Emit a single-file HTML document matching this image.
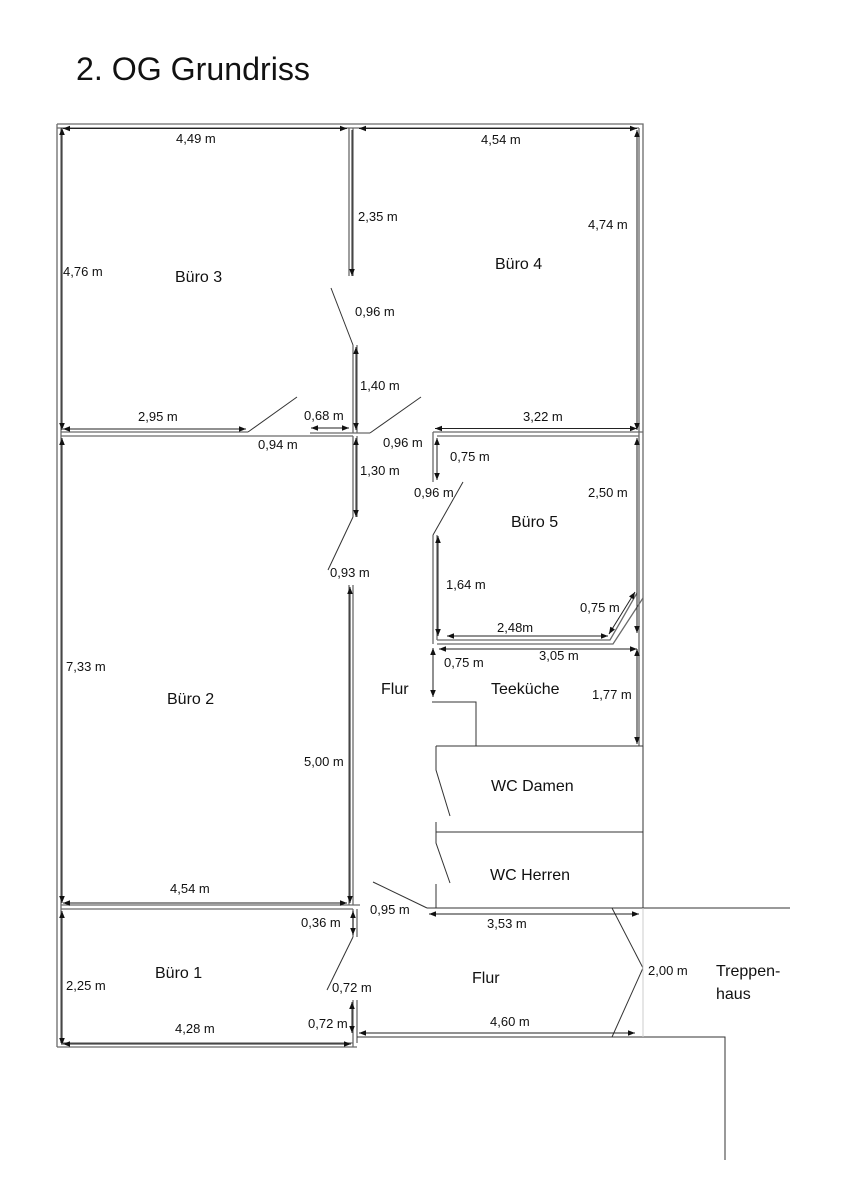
<!DOCTYPE html>
<html><head><meta charset="utf-8"><style>
html,body{margin:0;padding:0;background:#fff;}
svg{display:block;}
text{font-family:"Liberation Sans",sans-serif;fill:#111;}
.w{stroke:#6a6a6a;stroke-width:1.3;fill:none;}
.t{stroke:#333;stroke-width:1;fill:none;}
.d{stroke:#222;stroke-width:1;fill:none;marker-start:url(#a);marker-end:url(#a);}
.d1{stroke:#222;stroke-width:1;fill:none;marker-end:url(#a);}
.s{font-size:13px;}
.r{font-size:16px;}
</style></head><body>
<svg width="848" height="1200" viewBox="0 0 848 1200" xmlns="http://www.w3.org/2000/svg">
<defs><marker id="a" viewBox="0 0 10 10" refX="10" refY="5" markerWidth="7" markerHeight="7" orient="auto-start-reverse" markerUnits="userSpaceOnUse"><path d="M0,1 L10,5 L0,9 z" fill="#111"/></marker></defs>
<text x="76" y="80" font-size="32" textLength="234" lengthAdjust="spacingAndGlyphs">2. OG Grundriss</text>

<!-- outer walls -->
<path class="w" d="M57,124 H643 V746 M57,128 H639 M57,124 V1047 M61,128 V1043"/>
<path class="w" d="M639,128 V746"/>
<!-- Büro3/4 divider -->
<path class="w" d="M349,128 V276 M353,128 V276"/>
<path class="t" d="M331,288 L353,345"/>
<path class="w" d="M353,345 V433 M357,345 V433"/>
<!-- horizontal wall y432 -->
<path class="w" d="M61,432 H248 M61,436 H353"/>
<path class="t" d="M248,432 L297,397"/>
<path class="w" d="M310,433 H370"/>
<path class="t" d="M370,433 L421,397"/>
<path class="w" d="M433,432 H643 M437,436 H639"/>
<!-- Büro5 left -->
<path class="w" d="M433,432 V482"/>
<path class="t" d="M433,535 L463,482"/>
<path class="w" d="M433,535 V644 M437,535 V640"/>
<path class="w" d="M437,640 H610 L637,593 M437,644 H613 L643,598"/>
<!-- middle wall Büro2 -->
<path class="w" d="M353,436 V517 M357,436 V517"/>
<path class="t" d="M353,517 L328,570"/>
<path class="w" d="M349,585 V905 M353,585 V905"/>
<path class="w" d="M61,905 H360 M61,909 H353"/>
<!-- Büro 1 -->
<path class="w" d="M353,909 V937 M357,909 V937"/>
<path class="t" d="M353,937 L327,990"/>
<path class="w" d="M353,1000 V1047 M357,1000 V1043"/>
<path class="w" d="M57,1047 H357 M61,1043 H353"/>
<path class="t" d="M357,1037 H725 V1160"/>
<!-- Teeküche / WC -->
<path class="t" d="M432,702 H476 V746 M436,746 H643"/>
<path class="t" d="M436,746 V770 L450,816 M436,822 V832 M436,832 H643 M436,832 V843 L450,883 M436,884 V908"/>
<path class="t" d="M643,746 V908"/>
<path class="t" d="M427,908 H790"/>
<path class="t" d="M373,882 L427,908"/>
<path class="t" d="M612,908 L643,968 L612,1037"/>
<path d="M643,908 V1037" stroke="#ccc" stroke-width="1"/>

<!-- dimension lines -->
<path class="d" d="M63,128.5 H347"/>
<path class="d" d="M359,128.5 H637"/>
<path class="d" d="M62,128 V430"/>
<path class="d" d="M637,130 V430"/>
<path class="d1" d="M352,130 V276"/>
<path class="d" d="M356,347 V430"/>
<path class="d" d="M63,429 H246"/>
<path class="d" d="M311,428 H349"/>
<path class="d" d="M435,428.5 H637"/>
<path class="d" d="M62,438 V903"/>
<path class="d" d="M356,438 V517"/>
<path class="d" d="M437,438 V480"/>
<path class="d" d="M637,438 V633"/>
<path class="d" d="M438,536 V636"/>
<path class="d" d="M447,636 H608"/>
<path class="d" d="M609,634 L635,592"/>
<path class="d" d="M439,649 H637"/>
<path class="d" d="M433,648 V697"/>
<path class="d" d="M637,649 V744"/>
<path class="d" d="M350,587 V903"/>
<path class="d" d="M63,903 H347"/>
<path class="d" d="M62,911 V1045"/>
<path class="d" d="M63,1044 H351"/>
<path class="d" d="M353,911 V935"/>
<path class="d" d="M352,1002 V1033"/>
<path class="d" d="M359,1033 H635"/>
<path class="d" d="M429,914 H639"/>

<!-- labels -->
<g class="s">
<text x="176" y="143">4,49 m</text>
<text x="481" y="144">4,54 m</text>
<text x="358" y="221">2,35 m</text>
<text x="588" y="229">4,74 m</text>
<text x="63" y="276">4,76 m</text>
<text x="355" y="316">0,96 m</text>
<text x="360" y="390">1,40 m</text>
<text x="138" y="421">2,95 m</text>
<text x="304" y="420">0,68 m</text>
<text x="523" y="421">3,22 m</text>
<text x="258" y="449">0,94 m</text>
<text x="383" y="447">0,96 m</text>
<text x="450" y="461">0,75 m</text>
<text x="360" y="475">1,30 m</text>
<text x="414" y="497">0,96 m</text>
<text x="588" y="497">2,50 m</text>
<text x="330" y="577">0,93 m</text>
<text x="446" y="589">1,64 m</text>
<text x="580" y="612">0,75 m</text>
<text x="497" y="632">2,48m</text>
<text x="539" y="660">3,05 m</text>
<text x="444" y="667">0,75 m</text>
<text x="66" y="671">7,33 m</text>
<text x="592" y="699">1,77 m</text>
<text x="304" y="766">5,00 m</text>
<text x="170" y="893">4,54 m</text>
<text x="370" y="914">0,95 m</text>
<text x="301" y="927">0,36 m</text>
<text x="487" y="928">3,53 m</text>
<text x="648" y="975">2,00 m</text>
<text x="66" y="990">2,25 m</text>
<text x="332" y="992">0,72 m</text>
<text x="490" y="1026">4,60 m</text>
<text x="308" y="1028">0,72 m</text>
<text x="175" y="1033">4,28 m</text>
</g>
<g class="r">
<text x="175" y="282">Büro 3</text>
<text x="495" y="269">Büro 4</text>
<text x="511" y="527">Büro 5</text>
<text x="381" y="694">Flur</text>
<text x="491" y="694">Teeküche</text>
<text x="167" y="704">Büro 2</text>
<text x="491" y="791">WC Damen</text>
<text x="490" y="880">WC Herren</text>
<text x="155" y="978">Büro 1</text>
<text x="472" y="983">Flur</text>
<text x="716" y="976">Treppen-</text>
<text x="716" y="999">haus</text>
</g>
</svg>
</body></html>
